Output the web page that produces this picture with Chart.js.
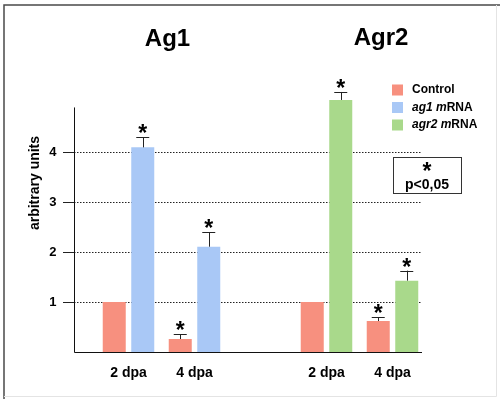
<!DOCTYPE html>
<html lang="en">
  <head>
    <title>Ag1 / Agr2</title>
    <meta charset="UTF-8" />
    <script src="https://cdn.jsdelivr.net/npm/chart.js@4.4.1/dist/chart.umd.min.js"></script>
    <style>
      body { margin: 0; background: #fff; }
      #wrap { width: 500px; height: 399px; position: relative; }
    </style>
  </head>
  <body>
    <div id="wrap"><canvas id="grafico"></canvas></div>
    <script>
      // data
      const categorias = ['2 dpa', '4 dpa', '', '2 dpa', '4 dpa'];
      const yTicks = [1, 2, 3, 4];

      const controle = [1, 0.26, null, 1, 0.62];
      const controleErr = [0, 0.10, null, 0, 0.08];
      const controleStar = [false, true, false, false, true];

      const ag1 = [4.1, 2.11, null, null, null];
      const ag1Err = [0.2, 0.29, null, null, null];
      const ag1Star = [true, true, false, false, false];

      const agr2 = [null, null, null, 5.05, 1.43];
      const agr2Err = [null, null, null, 0.16, 0.2];
      const agr2Star = [false, false, false, true, true];

      const erros = [controleErr, ag1Err, agr2Err];
      const estrelas = [controleStar, ag1Star, agr2Star];
      const legendaTextos = [
        [['Control', false]],
        [['ag1 m', true], ['RNA', false]],
        [['agr2 m', true], ['RNA', false]],
      ];

      const FONTE = '"Liberation Sans", Arial, sans-serif';
      Chart.defaults.font.family = FONTE;
      Chart.defaults.color = '#000';

      // x range of the drawn axes (y axis line sits left of the plot area)
      const eixoEsq = 74;
      const eixoDir = 422;

      const enfeites = {
        id: 'enfeites',
        beforeDraw(chart) {
          const ctx = chart.ctx;
          ctx.save();
          ctx.fillStyle = '#fff';
          ctx.fillRect(0, 0, chart.width, chart.height);
          // frame
          ctx.strokeStyle = '#4a4a4a';
          ctx.lineWidth = 1.5;
          ctx.beginPath();
          ctx.moveTo(4, chart.height);
          ctx.lineTo(4, 5);
          ctx.lineTo(chart.width, 5);
          ctx.stroke();
          ctx.strokeStyle = '#e4e4e4';
          ctx.lineWidth = 1;
          ctx.beginPath();
          ctx.moveTo(496.5, 5);
          ctx.lineTo(496.5, 396.5);
          ctx.lineTo(4, 396.5);
          ctx.stroke();
          ctx.restore();
        },
        beforeDatasetsDraw(chart) {
          const ctx = chart.ctx;
          const y = chart.scales.y;
          ctx.save();
          yTicks.forEach(function (t) {
            const py = Math.round(y.getPixelForValue(t)) + 0.5;
            ctx.strokeStyle = '#222';
            ctx.lineWidth = 1;
            ctx.setLineDash([1.5, 1.5]);
            ctx.beginPath();
            ctx.moveTo(eixoEsq, py);
            ctx.lineTo(eixoDir, py);
            ctx.stroke();
            ctx.setLineDash([]);
            ctx.beginPath();
            ctx.moveTo(eixoEsq - 11, py);
            ctx.lineTo(eixoEsq, py);
            ctx.stroke();
          });
          ctx.restore();
        },
        afterDatasetsDraw(chart) {
          const ctx = chart.ctx;
          const y = chart.scales.y;
          ctx.save();
          // axes
          const y0 = Math.round(y.getPixelForValue(0)) + 0.5;
          ctx.strokeStyle = '#111';
          ctx.lineWidth = 1;
          ctx.beginPath();
          ctx.moveTo(eixoEsq + 0.5, y.getPixelForValue(4.9));
          ctx.lineTo(eixoEsq + 0.5, y0);
          ctx.lineTo(eixoDir, y0);
          ctx.stroke();

          // error bars + stars
          chart.data.datasets.forEach(function (ds, i) {
            const meta = chart.getDatasetMeta(i);
            ds.data.forEach(function (v, j) {
              if (v === null) return;
              const bar = meta.data[j];
              const e = erros[i][j] || 0;
              let topo = bar.y;
              if (e > 0) {
                topo = y.getPixelForValue(v + e);
                ctx.strokeStyle = '#222';
                ctx.beginPath();
                ctx.moveTo(Math.round(bar.x) + 0.5, bar.y);
                ctx.lineTo(Math.round(bar.x) + 0.5, topo);
                ctx.moveTo(bar.x - 6.5, Math.round(topo) + 0.5);
                ctx.lineTo(bar.x + 6.5, Math.round(topo) + 0.5);
                ctx.stroke();
              }
              if (estrelas[i][j]) {
                ctx.fillStyle = '#000';
                ctx.font = 'bold 23px ' + FONTE;
                ctx.textAlign = 'center';
                ctx.textBaseline = 'alphabetic';
                ctx.fillText('*', bar.x, topo + 4);
              }
            });
          });

          // group titles
          ctx.fillStyle = '#000';
          ctx.font = 'bold 24px ' + FONTE;
          ctx.textAlign = 'center';
          ctx.textBaseline = 'alphabetic';
          ctx.fillText('Ag1', 167.5, 46);
          ctx.fillText('Agr2', 381, 45);

          // y axis title
          ctx.save();
          ctx.translate(35, 183);
          ctx.rotate(-Math.PI / 2);
          ctx.font = 'bold 14px ' + FONTE;
          ctx.textBaseline = 'middle';
          ctx.fillText('arbitrary units', 0, 0);
          ctx.restore();

          // legend
          chart.data.datasets.forEach(function (ds, i) {
            const cy = 90 + i * 17.5;
            ctx.fillStyle = ds.backgroundColor;
            ctx.fillRect(392, cy - 5.5, 11, 11);
            let x = 412;
            ctx.fillStyle = '#000';
            ctx.textAlign = 'left';
            ctx.textBaseline = 'middle';
            legendaTextos[i].forEach(function (parte) {
              ctx.font = (parte[1] ? 'italic ' : '') + 'bold 12px ' + FONTE;
              ctx.fillText(parte[0], x, cy);
              x += ctx.measureText(parte[0]).width;
            });
          });

          // significance box
          ctx.strokeStyle = '#333';
          ctx.lineWidth = 1;
          ctx.strokeRect(393.5, 157.5, 68, 36);
          ctx.textAlign = 'center';
          ctx.textBaseline = 'alphabetic';
          ctx.font = 'bold 23px ' + FONTE;
          ctx.fillText('*', 427, 179);
          ctx.font = 'bold 14px ' + FONTE;
          ctx.textBaseline = 'middle';
          ctx.fillText('p<0,05', 427, 185);
          ctx.restore();
        },
      };

      new Chart(document.getElementById('grafico'), {
        type: 'bar',
        data: {
          labels: categorias,
          datasets: [
            { label: 'Control', data: controle, backgroundColor: '#f7907f' },
            { label: 'ag1 mRNA', data: ag1, backgroundColor: '#a9c8f6' },
            { label: 'agr2 mRNA', data: agr2, backgroundColor: '#a9d98b' },
          ],
        },
        options: {
          responsive: true,
          maintainAspectRatio: false,
          animation: false,
          datasets: {
            bar: {
              skipNull: true,
              categoryPercentage: 0.864,
              barPercentage: 0.807,
              borderWidth: 0,
            },
          },
          layout: { padding: { top: 77.5, right: 74.5, left: 0, bottom: 0 } },
          plugins: { legend: { display: false }, tooltip: { enabled: false } },
          scales: {
            x: {
              grid: { display: false, drawTicks: false },
              border: { display: false },
              ticks: { font: { size: 14, weight: 'bold' }, padding: 13, color: '#000' },
              afterFit(s) { s.height = 47; },
            },
            y: {
              min: 0,
              max: 5.5,
              grid: { display: false, drawTicks: false },
              border: { display: false },
              ticks: {
                stepSize: 1,
                padding: 39,
                color: '#000',
                font: { size: 13, weight: 'bold' },
                callback: function (v) { return yTicks.indexOf(v) >= 0 ? v : ''; },
              },
              afterFit(s) { s.width = 95.5; },
            },
          },
        },
        plugins: [enfeites],
      });
    </script>
  </body>
</html>
